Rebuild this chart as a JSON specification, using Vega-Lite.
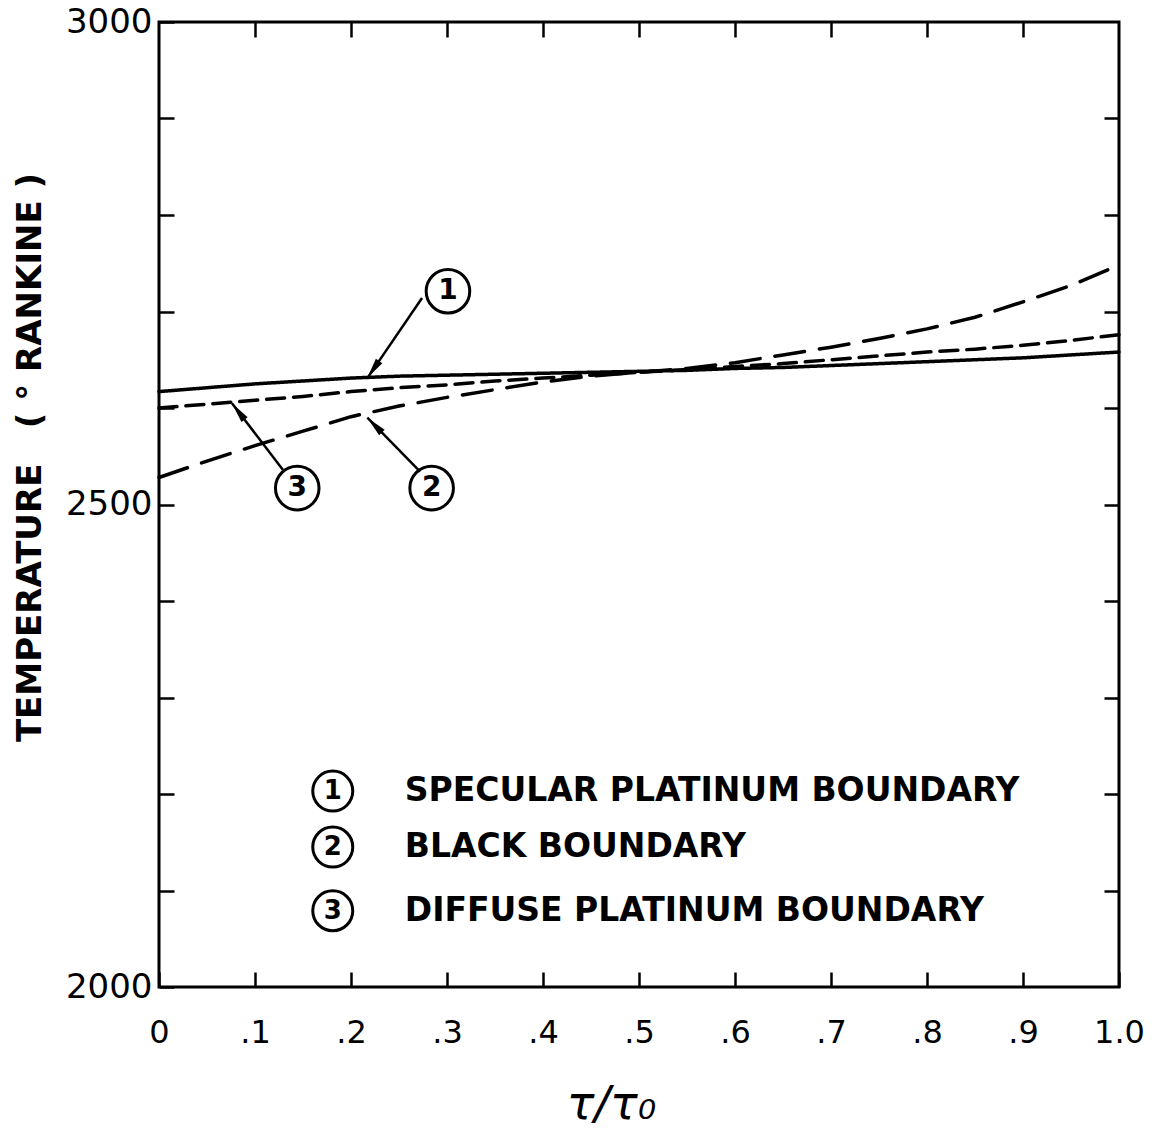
{
  "$schema": "https://vega.github.io/schema/vega-lite/v6.json",
  "width": 960,
  "height": 965,
  "autosize": "none",
  "padding": {"left": 159, "top": 22, "right": 36, "bottom": 160},
  "background": "white",
  "config": {
    "view": {"stroke": "black", "strokeWidth": 3},
    "axis": {
      "domain": false,
      "grid": false,
      "tickColor": "black",
      "tickWidth": 2.5,
      "labelColor": "black",
      "titleColor": "black",
      "labelFont": "DejaVu Sans",
      "titleFont": "DejaVu Sans"
    }
  },
  "datasets": {
    "curves": [
      {"series": "1", "tau": 0.0, "T": 2617}, {"series": "1", "tau": 0.05, "T": 2621}, {"series": "1", "tau": 0.1, "T": 2625},
      {"series": "1", "tau": 0.15, "T": 2628}, {"series": "1", "tau": 0.2, "T": 2631}, {"series": "1", "tau": 0.25, "T": 2633},
      {"series": "1", "tau": 0.3, "T": 2634}, {"series": "1", "tau": 0.35, "T": 2635}, {"series": "1", "tau": 0.4, "T": 2636},
      {"series": "1", "tau": 0.45, "T": 2637}, {"series": "1", "tau": 0.5, "T": 2638}, {"series": "1", "tau": 0.55, "T": 2639},
      {"series": "1", "tau": 0.6, "T": 2641}, {"series": "1", "tau": 0.65, "T": 2642}, {"series": "1", "tau": 0.7, "T": 2644},
      {"series": "1", "tau": 0.75, "T": 2646}, {"series": "1", "tau": 0.8, "T": 2648}, {"series": "1", "tau": 0.85, "T": 2650},
      {"series": "1", "tau": 0.9, "T": 2652}, {"series": "1", "tau": 0.95, "T": 2655}, {"series": "1", "tau": 1.0, "T": 2658},
      {"series": "2", "tau": 0.0, "T": 2528}, {"series": "2", "tau": 0.05, "T": 2545}, {"series": "2", "tau": 0.1, "T": 2561},
      {"series": "2", "tau": 0.15, "T": 2576}, {"series": "2", "tau": 0.2, "T": 2591}, {"series": "2", "tau": 0.25, "T": 2602},
      {"series": "2", "tau": 0.3, "T": 2611}, {"series": "2", "tau": 0.35, "T": 2619}, {"series": "2", "tau": 0.4, "T": 2627},
      {"series": "2", "tau": 0.45, "T": 2633}, {"series": "2", "tau": 0.5, "T": 2637}, {"series": "2", "tau": 0.55, "T": 2641},
      {"series": "2", "tau": 0.6, "T": 2647}, {"series": "2", "tau": 0.65, "T": 2655}, {"series": "2", "tau": 0.7, "T": 2663},
      {"series": "2", "tau": 0.75, "T": 2672}, {"series": "2", "tau": 0.8, "T": 2682}, {"series": "2", "tau": 0.85, "T": 2694},
      {"series": "2", "tau": 0.9, "T": 2710}, {"series": "2", "tau": 0.95, "T": 2727}, {"series": "2", "tau": 1.0, "T": 2748},
      {"series": "3", "tau": 0.0, "T": 2600}, {"series": "3", "tau": 0.05, "T": 2604}, {"series": "3", "tau": 0.1, "T": 2608},
      {"series": "3", "tau": 0.15, "T": 2612}, {"series": "3", "tau": 0.2, "T": 2617}, {"series": "3", "tau": 0.25, "T": 2621},
      {"series": "3", "tau": 0.3, "T": 2624}, {"series": "3", "tau": 0.35, "T": 2628}, {"series": "3", "tau": 0.4, "T": 2631},
      {"series": "3", "tau": 0.45, "T": 2634}, {"series": "3", "tau": 0.5, "T": 2637}, {"series": "3", "tau": 0.55, "T": 2640},
      {"series": "3", "tau": 0.6, "T": 2643}, {"series": "3", "tau": 0.65, "T": 2646}, {"series": "3", "tau": 0.7, "T": 2650},
      {"series": "3", "tau": 0.75, "T": 2654}, {"series": "3", "tau": 0.8, "T": 2658}, {"series": "3", "tau": 0.85, "T": 2661},
      {"series": "3", "tau": 0.9, "T": 2665}, {"series": "3", "tau": 0.95, "T": 2670}, {"series": "3", "tau": 1.0, "T": 2676}
    ],
    "callouts": [
      {"num": "1", "cx": 0.301, "cy": 2721, "x0": 0.274, "y0": 2714, "x1": 0.217, "y1": 2631, "angle": 214.5},
      {"num": "3", "cx": 0.144, "cy": 2517, "x0": 0.129, "y0": 2536, "x1": 0.076, "y1": 2605, "angle": 322.7},
      {"num": "2", "cx": 0.284, "cy": 2517, "x0": 0.272, "y0": 2534, "x1": 0.217, "y1": 2590, "angle": 315.5}
    ],
    "legend": [
      {"num": "1", "cx": 0.181, "cy": 2203, "tx": 0.256, "label": "SPECULAR PLATINUM BOUNDARY"},
      {"num": "2", "cx": 0.181, "cy": 2145, "tx": 0.256, "label": "BLACK BOUNDARY"},
      {"num": "3", "cx": 0.181, "cy": 2079, "tx": 0.256, "label": "DIFFUSE PLATINUM BOUNDARY"}
    ]
  },
  "layer": [
    {
      "data": {"name": "curves"},
      "mark": {"type": "line", "stroke": "black", "strokeWidth": 3.5, "strokeCap": "round"},
      "encoding": {
        "x": {
          "field": "tau", "type": "quantitative",
          "scale": {"domain": [0, 1], "nice": false},
          "axis": {
            "orient": "bottom",
            "values": [0, 0.1, 0.2, 0.3, 0.4, 0.5, 0.6, 0.7, 0.8, 0.9, 1.0],
            "labelExpr": "datum.value == 0 ? '0' : datum.value == 1 ? '1.0' : replace(format(datum.value, '.1f'), '0.', '.')",
            "tickSize": -15,
            "labelPadding": 45,
            "labelFontSize": 32,
            "labelFlush": false,
            "title": "τ/τ₀",
            "titleFontSize": 46,
            "titleFontStyle": "italic",
            "titleFontWeight": "normal",
            "titlePadding": 34,
            "titleX": 452
          }
        },
        "y": {
          "field": "T", "type": "quantitative",
          "scale": {"domain": [2000, 3000], "nice": false},
          "axis": {
            "orient": "left",
            "values": [2000, 2100, 2200, 2300, 2400, 2500, 2600, 2700, 2800, 2900, 3000],
            "labelExpr": "datum.value % 500 == 0 ? datum.value : ''",
            "tickSize": -15,
            "labelPadding": 22,
            "labelFontSize": 34,
            "labelFlush": false,
            "title": "TEMPERATURE\u00a0\u00a0\u00a0(\u00a0°\u00a0RANKINE\u00a0)",
            "titleFontSize": 34,
            "titleFontWeight": "bold",
            "titlePadding": 18,
            "titleY": 435
          }
        },
        "detail": {"field": "series"},
        "strokeDash": {
          "field": "series", "type": "nominal",
          "scale": {"domain": ["1", "2", "3"], "range": [[1, 0], [30, 15], [18, 9]]},
          "legend": null
        }
      }
    },
    {
      "data": {"name": "curves"},
      "mark": {"type": "point", "opacity": 0},
      "encoding": {
        "x": {
          "field": "tau", "type": "quantitative",
          "axis": {
            "orient": "top",
            "values": [0.1, 0.2, 0.3, 0.4, 0.5, 0.6, 0.7, 0.8, 0.9],
            "labels": false,
            "tickSize": -15,
            "title": null
          }
        },
        "y": {
          "field": "T", "type": "quantitative",
          "axis": {
            "orient": "right",
            "values": [2100, 2200, 2300, 2400, 2500, 2600, 2700, 2800, 2900],
            "labels": false,
            "tickSize": -15,
            "title": null
          }
        }
      }
    },
    {
      "data": {"name": "callouts"},
      "mark": {"type": "rule", "stroke": "black", "strokeWidth": 2.5},
      "encoding": {
        "x": {"field": "x0", "type": "quantitative", "axis": null},
        "y": {"field": "y0", "type": "quantitative", "axis": null},
        "x2": {"field": "x1"},
        "y2": {"field": "y1"}
      }
    },
    {
      "data": {"name": "callouts"},
      "mark": {"type": "point", "shape": "M0,0L-0.45,2.4L0.45,2.4Z", "filled": true, "fill": "black", "opacity": 1, "size": 300},
      "encoding": {
        "x": {"field": "x1", "type": "quantitative", "axis": null},
        "y": {"field": "y1", "type": "quantitative", "axis": null},
        "angle": {"field": "angle", "type": "quantitative", "scale": null}
      }
    },
    {
      "data": {"name": "callouts"},
      "mark": {"type": "point", "shape": "circle", "filled": false, "stroke": "black", "strokeWidth": 3, "opacity": 1, "size": 1900},
      "encoding": {
        "x": {"field": "cx", "type": "quantitative", "axis": null},
        "y": {"field": "cy", "type": "quantitative", "axis": null}
      }
    },
    {
      "data": {"name": "callouts"},
      "mark": {"type": "text", "font": "DejaVu Sans", "fontSize": 28, "fontWeight": "bold", "color": "black", "baseline": "middle", "align": "center"},
      "encoding": {
        "x": {"field": "cx", "type": "quantitative", "axis": null},
        "y": {"field": "cy", "type": "quantitative", "axis": null},
        "text": {"field": "num"}
      }
    },
    {
      "data": {"name": "legend"},
      "mark": {"type": "point", "shape": "circle", "filled": false, "stroke": "black", "strokeWidth": 3, "opacity": 1, "size": 1600},
      "encoding": {
        "x": {"field": "cx", "type": "quantitative", "axis": null},
        "y": {"field": "cy", "type": "quantitative", "axis": null}
      }
    },
    {
      "data": {"name": "legend"},
      "mark": {"type": "text", "font": "DejaVu Sans", "fontSize": 26, "fontWeight": "bold", "color": "black", "baseline": "middle", "align": "center"},
      "encoding": {
        "x": {"field": "cx", "type": "quantitative", "axis": null},
        "y": {"field": "cy", "type": "quantitative", "axis": null},
        "text": {"field": "num"}
      }
    },
    {
      "data": {"name": "legend"},
      "mark": {"type": "text", "font": "DejaVu Sans", "fontSize": 33, "fontWeight": "bold", "color": "black", "baseline": "middle", "align": "left"},
      "encoding": {
        "x": {"field": "tx", "type": "quantitative", "axis": null},
        "y": {"field": "cy", "type": "quantitative", "axis": null},
        "text": {"field": "label"}
      }
    }
  ],
  "resolve": {"axis": {"x": "independent", "y": "independent"}}
}
